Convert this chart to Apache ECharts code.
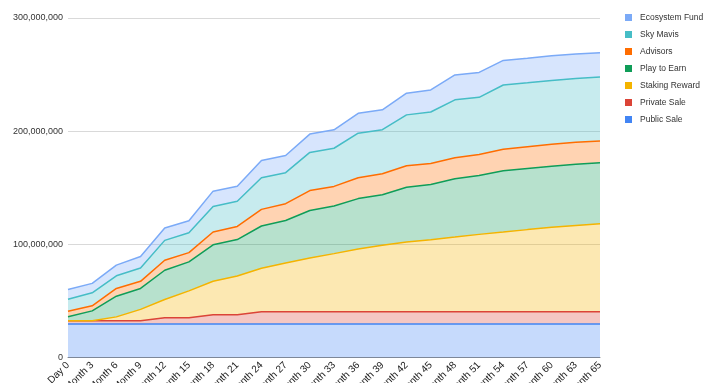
<!DOCTYPE html>
<html>
<head>
<meta charset="utf-8">
<script src="https://cdn.jsdelivr.net/npm/echarts@6/dist/echarts.min.js"></script>
<style>
html,body{margin:0;padding:0;background:#fff;}
#chart{width:714px;height:383px;}
</style>
</head>
<body>
<div id="chart"></div>
<script>
const categories = ["Day 0","Month 3","Month 6","Month 9","Month 12","Month 15","Month 18","Month 21","Month 24","Month 27","Month 30","Month 33","Month 36","Month 39","Month 42","Month 45","Month 48","Month 51","Month 54","Month 57","Month 60","Month 63","Month 65"];
const yTicks = [0, 100000000, 200000000, 300000000];
const M = 1000000;
// values in millions of tokens (per series, stacked)
const publicSale = [29.7,29.7,29.7,29.7,29.7,29.7,29.7,29.7,29.7,29.7,29.7,29.7,29.7,29.7,29.7,29.7,29.7,29.7,29.7,29.7,29.7,29.7,29.7];
const privateSale = [2.7,2.7,2.7,2.7,5.4,5.4,8.1,8.1,10.8,10.8,10.8,10.8,10.8,10.8,10.8,10.8,10.8,10.8,10.8,10.8,10.8,10.8,10.8];
const stakingReward = [0,0,3.5,10.1,16.2,23.8,29.6,34.2,38.4,43.0,47.4,51.3,55.4,58.6,61.5,63.6,65.9,68.3,70.3,72.5,74.5,76.2,77.7];
const playToEarn = [3.7,8.8,18.3,18.5,25.8,25.6,32.2,32.2,37.3,37.6,42.0,42.0,44.5,44.7,48.5,48.8,51.6,52.0,54.2,54.0,54.0,54.0,54.0];
const advisors = [4.8,4.5,6.8,6.3,8.8,8.2,11.3,11.6,14.7,14.8,17.6,17.4,18.5,18.5,19.0,18.6,18.6,18.6,19.1,19.3,19.4,19.4,19.2];
const skyMavis = [10.5,11.5,11.2,11.8,17.6,17.6,22.6,22.3,28.0,27.4,33.7,33.7,39.3,39.0,44.9,45.4,51.1,50.5,56.7,56.4,56.4,56.4,56.4];
const ecosystemFund = [8.6,8.3,9.4,10.2,10.9,10.5,13.5,13.2,15.2,15.2,16.2,16.3,17.6,17.6,19.2,19.5,22.0,22.0,21.7,21.8,21.8,21.7,21.6];

const seriesDefs = [
  {name:"Public Sale", data:publicSale, color:"#4285f4"},
  {name:"Private Sale", data:privateSale, color:"#db4437"},
  {name:"Staking Reward", data:stakingReward, color:"#f4b400"},
  {name:"Play to Earn", data:playToEarn, color:"#0f9d58"},
  {name:"Advisors", data:advisors, color:"#ff6d00"},
  {name:"Sky Mavis", data:skyMavis, color:"#46bdc6"},
  {name:"Ecosystem Fund", data:ecosystemFund, color:"#7baaf7"}
];

const chart = echarts.init(document.getElementById('chart'), null, {renderer:'canvas'});
chart.setOption({
  animation:false,
  textStyle:{fontFamily:'Arial, "Liberation Sans", sans-serif'},
  grid:{left:68, right:114, top:18, bottom:25.5, containLabel:false, outerBoundsMode:'none'},
  legend:{
    orient:'vertical', left:620, top:8,
    icon:'rect', itemWidth:7, itemHeight:7, itemGap:8,
    textStyle:{fontSize:8.5, color:'#333', padding:[0,0,0,3]},
    data:seriesDefs.map(s=>s.name).reverse()
  },
  xAxis:{
    type:'category', boundaryGap:false, data:categories,
    axisLine:{lineStyle:{color:'#888', width:1}},
    axisTick:{show:false},
    axisLabel:{rotate:45, interval:0, fontSize:10, color:'#222', margin:6}
  },
  yAxis:{
    type:'value', min:yTicks[0], max:yTicks[yTicks.length-1], interval:yTicks[1]-yTicks[0],
    axisLine:{show:false}, axisTick:{show:false},
    splitLine:{lineStyle:{color:'#d9d9d9', width:1}},
    axisLabel:{fontSize:9, color:'#333', margin:5, formatter:v=>v.toLocaleString('en-US')}
  },
  series:seriesDefs.map(s=>({
    name:s.name, type:'line', stack:'total', symbol:'none',
    data:s.data.map(v=>Math.round(v*M)),
    itemStyle:{color:s.color},
    lineStyle:{color:s.color, width:1.5},
    areaStyle:{color:s.color, opacity:0.3}
  }))
});
</script>
</body>
</html>
